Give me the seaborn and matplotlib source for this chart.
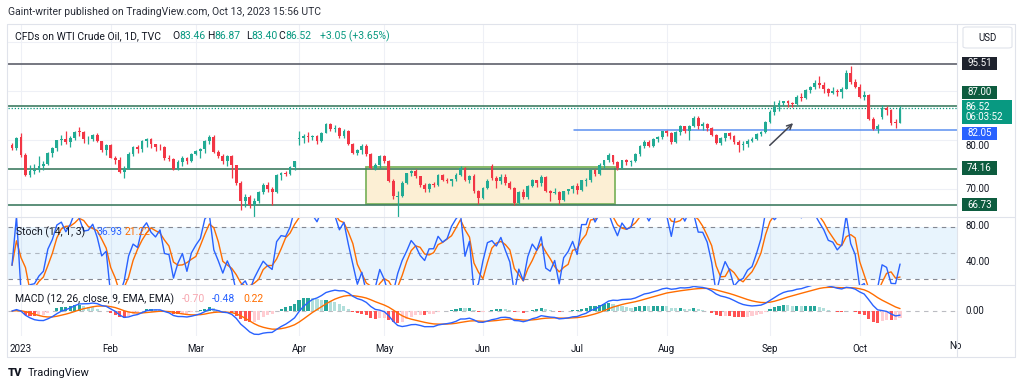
import numpy as np
import pandas as pd
import matplotlib
matplotlib.use("Agg")
import matplotlib.pyplot as plt
import seaborn as sns
from matplotlib.patches import Rectangle, FancyBboxPatch

# ---------------- data (daily candles, 29 Dec 2022 .. 13 Oct 2023) ----------------
opens = [78.9, 78.4,
         80.5, 76.9, 72.8, 73.7, 73.8, 74.6, 75.1, 77.4, 78.4, 79.9, 80.2, 79.5, 80.3, 81.7, 81.6, 80.1, 80.2, 81.0, 79.7, 77.9,
         78.9, 76.4, 75.9, 73.4, 74.1, 77.1, 78.5, 78.1, 79.7, 80.1, 79.1, 78.6, 78.5, 76.3, 76.2, 74.0, 75.4, 76.3, 75.7,
         77.1, 77.7, 78.2, 79.7, 80.5, 77.6, 76.7, 75.7, 76.7, 74.8, 71.3, 67.6, 68.4, 66.7, 67.6, 69.3, 70.9, 70.0, 69.3, 72.8, 73.2, 73.0, 74.4,
         80.1, 80.4, 80.7, 80.6, 80.7, 79.7, 81.5, 83.3, 82.2, 82.5, 80.8, 81.9, 79.2, 77.4, 77.9, 78.8, 77.1, 74.3, 74.8,
         76.8, 75.7, 71.7, 68.3, 68.6, 71.3, 73.2, 73.7, 72.6, 70.9, 70.0, 71.1, 70.9, 72.8, 71.9, 71.7, 72.0, 72.9, 74.3, 71.8, 72.7, 69.5,
         68.1, 70.1, 74.7, 72.2, 71.7, 72.5, 71.3, 70.2, 67.1, 69.4, 68.3, 70.6, 71.8, 71.2, 72.5, 69.5, 69.2, 69.4, 67.7, 69.6, 69.9,
         70.6, 69.8, 71.7, 71.8, 73.9, 73.0, 74.8, 75.8, 76.9, 75.4, 74.2, 75.8, 75.4, 75.6, 77.1, 78.7, 79.6, 78.8, 80.1, 80.6,
         81.8, 81.4, 79.5, 81.6, 82.8, 81.9, 82.9, 84.4, 82.8, 83.2, 82.5, 81.0, 79.4, 80.4, 81.3, 80.7, 79.6, 78.9, 79.1, 79.8, 80.1, 81.2, 81.6,
         83.6, 85.6, 86.7, 87.5, 87.9, 87.5, 87.3, 88.8, 88.5, 90.2, 90.8, 91.5, 91.2, 90.3, 89.6, 90.0, 89.7, 90.4, 93.7, 91.7,
         90.8, 88.8, 89.2, 84.2, 82.3, 84.7, 86.4, 86.0, 83.5, 83.46]
highs = [79.3, 80.5,
         81.5, 77.4, 74.9, 75.0, 76.7, 75.6, 77.5, 78.6, 80.0, 81.0, 81.9, 80.8, 81.9, 82.6, 81.8, 80.7, 81.2, 81.5, 79.8, 79.1,
         79.2, 76.7, 76.6, 74.6, 77.5, 78.7, 79.0, 80.0, 80.4, 80.4, 79.2, 79.2, 78.8, 77.0, 76.4, 76.0, 76.7, 76.5, 77.4,
         78.0, 78.4, 79.9, 80.9, 80.9, 77.9, 77.1, 77.0, 77.0, 74.8, 71.6, 68.9, 68.8, 68.2, 69.6, 71.2, 71.5, 70.3, 73.0, 73.5, 73.6, 74.7, 75.7,
         81.8, 81.2, 81.7, 81.0, 80.9, 81.7, 83.5, 83.4, 83.0, 82.6, 82.2, 82.0, 79.3, 78.1, 79.1, 79.1, 77.3, 75.2, 76.9,
         76.9, 75.8, 72.0, 69.5, 71.6, 73.3, 73.9, 74.0, 72.7, 71.3, 71.3, 71.4, 73.0, 73.0, 72.3, 72.1, 73.3, 74.6, 74.4, 72.9, 73.1, 69.8,
         70.4, 72.0, 75.1, 72.6, 73.0, 73.1, 71.6, 70.3, 69.6, 70.0, 70.9, 72.0, 71.9, 72.8, 72.7, 69.8, 70.2, 69.6, 69.6, 70.0, 70.9,
         71.3, 71.9, 72.3, 74.0, 74.0, 75.2, 76.0, 77.3, 77.0, 75.6, 76.0, 76.1, 76.0, 77.3, 78.9, 79.9, 79.9, 80.3, 80.8, 81.9,
         82.0, 81.6, 81.8, 83.0, 82.9, 83.1, 84.9, 84.9, 83.6, 83.5, 82.6, 81.2, 80.6, 81.4, 81.6, 81.0, 80.0, 79.7, 80.2, 80.5, 81.3, 81.8, 83.8,
         86.0, 87.9, 88.1, 88.0, 88.1, 87.7, 89.2, 89.6, 90.4, 91.0, 92.2, 93.0, 91.8, 90.6, 90.7, 90.4, 90.7, 94.2, 95.0, 92.3,
         91.3, 89.9, 89.3, 84.6, 83.3, 87.2, 86.8, 86.2, 84.3, 86.87]
lows = [77.9, 78.0,
        76.6, 72.7, 72.5, 73.1, 73.5, 73.8, 74.9, 76.6, 77.8, 78.9, 79.1, 78.5, 80.0, 80.8, 79.4, 79.1, 79.8, 79.5, 77.6, 76.9,
        76.3, 75.1, 73.2, 72.3, 74.0, 76.8, 77.3, 77.6, 78.6, 78.3, 77.8, 78.0, 75.8, 75.6, 73.8, 73.8, 74.7, 75.1, 75.5,
        76.9, 76.4, 77.3, 79.2, 77.4, 76.4, 75.1, 74.7, 72.3, 70.8, 65.7, 66.3, 66.2, 64.1, 67.1, 68.9, 69.3, 66.8, 69.2, 71.9, 72.6, 72.8, 73.8,
        79.0, 79.4, 79.6, 79.9, 79.2, 79.6, 81.3, 81.9, 81.6, 80.4, 80.4, 78.9, 77.1, 77.0, 77.2, 76.8, 74.0, 73.8, 74.3,
        75.3, 71.5, 67.9, 63.6, 68.4, 71.0, 72.6, 72.3, 70.3, 69.4, 69.4, 70.4, 70.7, 71.6, 71.2, 70.7, 71.7, 72.7, 71.6, 71.2, 69.2, 67.0,
        67.9, 70.0, 71.8, 70.1, 71.1, 70.8, 69.9, 66.8, 67.0, 67.9, 67.9, 70.4, 70.3, 70.6, 69.3, 67.6, 68.9, 67.0, 67.6, 68.9, 69.2,
        69.0, 69.6, 70.7, 71.5, 72.7, 72.8, 74.2, 75.5, 75.1, 73.9, 74.1, 74.8, 74.7, 75.4, 76.8, 78.4, 78.5, 78.5, 79.5, 80.1,
        80.8, 79.2, 79.4, 81.0, 81.5, 79.9, 82.6, 82.2, 82.0, 81.8, 80.8, 79.2, 78.9, 79.8, 80.2, 79.2, 77.6, 78.0, 78.5, 79.5, 79.9, 80.8, 81.4,
        83.4, 85.0, 85.9, 86.8, 86.6, 86.6, 86.9, 88.0, 88.3, 89.6, 90.3, 90.5, 89.5, 88.9, 89.3, 88.9, 88.5, 90.3, 91.4, 90.5,
        88.6, 88.2, 84.0, 82.0, 81.5, 84.3, 85.1, 83.1, 82.5, 83.40]
closes = [78.4, 80.3,
          76.9, 72.8, 73.7, 73.8, 74.6, 75.1, 77.4, 78.4, 79.9, 80.2, 79.5, 80.3, 81.6, 81.6, 80.1, 80.2, 81.0, 79.7, 77.9, 78.9,
          76.4, 75.9, 73.4, 74.1, 77.1, 78.5, 78.1, 79.7, 80.1, 79.1, 78.6, 78.5, 76.3, 76.2, 74.0, 75.4, 76.3, 75.7, 77.1,
          77.7, 78.2, 79.7, 80.5, 77.6, 76.7, 75.7, 76.7, 74.8, 71.3, 67.6, 68.4, 66.7, 67.6, 69.3, 70.9, 70.0, 69.3, 72.8, 73.2, 73.0, 74.4, 75.7,
          80.4, 80.7, 80.6, 80.7, 79.7, 81.5, 83.3, 82.2, 82.5, 80.8, 81.9, 79.2, 77.4, 77.9, 78.8, 77.1, 74.3, 74.8, 76.8,
          75.7, 71.7, 68.6, 68.6, 71.3, 73.2, 73.7, 72.6, 70.9, 70.0, 71.1, 70.9, 72.8, 71.9, 71.7, 72.0, 72.9, 74.3, 71.8, 72.7, 69.5, 68.1,
          70.1, 71.7, 72.2, 71.7, 72.5, 71.3, 70.2, 67.1, 69.4, 68.3, 70.6, 71.8, 71.2, 72.5, 69.5, 69.2, 69.4, 67.7, 69.6, 69.9, 70.6,
          69.8, 71.8, 71.8, 73.9, 73.0, 74.8, 75.8, 76.9, 75.4, 74.2, 75.8, 75.4, 75.6, 77.1, 78.7, 79.6, 78.8, 80.1, 80.6, 81.8,
          81.4, 79.5, 81.6, 82.8, 81.9, 82.9, 84.4, 82.8, 83.2, 82.5, 81.0, 79.4, 80.4, 81.3, 80.7, 79.6, 78.9, 79.1, 79.8, 80.1, 81.2, 81.6, 83.6,
          85.6, 86.7, 87.5, 87.9, 87.5, 87.3, 88.8, 88.5, 90.2, 90.8, 91.5, 91.2, 90.3, 89.6, 90.0, 89.7, 90.4, 93.7, 91.7, 90.8,
          88.8, 89.2, 84.2, 82.3, 82.8, 86.4, 86.0, 83.5, 83.47, 86.52]

month_labels = ["2023", "Feb", "Mar", "Apr", "May", "Jun", "Jul", "Aug", "Sep", "Oct"]
month_bar = [2, 22, 41, 64, 83, 105, 126, 146, 169, 189]

level_dark = 95.51
levels_green = [87.00, 74.16, 66.73]
level_blue = 82.05
last_price = 86.52
box_bars = [78.9, 134.4]
box_prices = [67.0, 74.4]
arrow_from = (168.5, 78.5)
arrow_to = (174.6, 83.8)

# ---------------- frame ----------------
df = pd.DataFrame({"o": opens, "h": highs, "l": lows, "c": closes})
df["i"] = np.arange(len(df))

hh = df["h"].rolling(14, min_periods=1).max()
ll = df["l"].rolling(14, min_periods=1).min()
df["k"] = 100 * (df["c"] - ll) / (hh - ll)
df["d"] = df["k"].rolling(3, min_periods=1).mean()
ema12 = df["c"].ewm(span=12, adjust=False).mean()
ema26 = df["c"].ewm(span=26, adjust=False).mean()
df["macd"] = ema12 - ema26
df["sig"] = df["macd"].ewm(span=9, adjust=False).mean()
df["hist"] = df["macd"] - df["sig"]

sns.set_theme(style="white")
plt.rcParams["font.family"] = ["Roboto", "DejaVu Sans"]

W, H = 1024, 388
fig = plt.figure(figsize=(W / 100, H / 100), dpi=100)
fig.patch.set_facecolor("white")


def rect(x0, y0, x1, y1):
    return [x0 / W, 1 - y1 / H, (x1 - x0) / W, (y1 - y0) / H]


def ftxt(x, y, s, **kw):
    kw.setdefault("va", "center")
    kw.setdefault("fontsize", 7)
    return fig.text(x / W, 1 - y / H, s, **kw)


def fbox(x0, y0, x1, y1, color, z=3):
    r = Rectangle((x0 / W, 1 - y1 / H), (x1 - x0) / W, (y1 - y0) / H,
                  transform=fig.transFigure, facecolor=color, edgecolor="none",
                  lw=0, zorder=z)
    fig.patches.append(r)


def fline(x0, y0, x1, y1, color="#e0e3eb", lw=0.8):
    fig.add_artist(plt.Line2D([x0 / W, x1 / W], [1 - y0 / H, 1 - y1 / H],
                              transform=fig.transFigure, color=color, lw=lw, zorder=5))


ax_p = fig.add_axes(rect(8, 24, 957, 217))
ax_s = fig.add_axes(rect(8, 217, 957, 285), sharex=ax_p)
ax_m = fig.add_axes(rect(8, 285, 957, 336), sharex=ax_p)

XMIN, XMAX = -0.892, 210.7
for ax in (ax_p, ax_s, ax_m):
    ax.set_facecolor("none")
    for sp in ax.spines.values():
        sp.set_visible(False)
    for mb in month_bar:
        ax.axvline(mb, color="#eef0f6", lw=0.8, zorder=0)
    ax.tick_params(left=False, right=False, labelleft=False, bottom=False, labelbottom=False)
ax_p.set_xlim(XMIN, XMAX)
ax_p.set_ylim(64.29, 103.6)
ax_s.set_ylim(13.0, 91.5)
ax_m.set_ylim(-2.66, 2.77)

# ---- main pane ----
for g in (70, 80, 90, 100):
    ax_p.axhline(g, color="#eef0f6", lw=0.8, zorder=0)
ax_p.add_patch(Rectangle((box_bars[0], box_prices[0]), box_bars[1] - box_bars[0],
                         box_prices[1] - box_prices[0], facecolor="#fcefd4",
                         edgecolor="#7fb560", lw=1.3, zorder=1))
ax_p.axhline(level_dark, color="#5d606b", lw=1.2, zorder=1)
for lv in levels_green:
    ax_p.axhline(lv, color="#3f7d62", lw=1.2, zorder=1)
ax_p.plot([125.3, XMAX], [level_blue, level_blue], color="#5b8ff0", lw=1.1, zorder=1)
ax_p.axhline(last_price, color="#089981", lw=0.9, ls=(0, (1, 1.5)), zorder=1)

up = df["c"] >= df["o"]
colors = np.where(up, "#22ab94", "#f23645")
body_lo = np.minimum(df["o"], df["c"])
body_h = np.maximum(np.abs(df["c"] - df["o"]), 0.12)
ax_p.vlines(df["i"], df["l"], df["h"], colors=colors, lw=0.9, zorder=2)
ax_p.bar(df["i"], body_h, bottom=body_lo, width=0.62, color=colors, lw=0, zorder=3)

ax_p.annotate("", xy=arrow_to, xytext=arrow_from,
              arrowprops=dict(arrowstyle="->", color="#434651", lw=1.1, mutation_scale=9), zorder=4)

# ---- stochastic pane ----
ax_s.axhspan(20, 80, color="#2196f3", alpha=0.1, lw=0, zorder=0)
for lv in (80, 50, 20):
    ax_s.axhline(lv, color="#787b86", lw=0.8, ls=(0, (4, 4)), alpha=0.9 if lv != 50 else 0.5, zorder=1)
sns.lineplot(x=df["i"], y=df["d"], ax=ax_s, color="#ff6d00", lw=1.0, zorder=2)
sns.lineplot(x=df["i"], y=df["k"], ax=ax_s, color="#2962ff", lw=1.0, zorder=3)
ax_s.set_xlabel("")
ax_s.set_ylabel("")

# ---- MACD pane ----
hist = df["hist"].to_numpy()
prev = np.r_[0.0, hist[:-1]]
hcol = np.where(hist >= 0, np.where(hist >= prev, "#26a69a", "#b2dfdb"),
                np.where(hist < prev, "#ff5252", "#ffcdd2"))
ax_m.axhline(0, color="#787b86", lw=0.8, ls=(0, (4, 4)), alpha=0.5, zorder=0)
ax_m.bar(df["i"], hist, width=0.7, color=hcol, lw=0, zorder=1)
sns.lineplot(x=df["i"], y=df["sig"], ax=ax_m, color="#ff6d00", lw=1.0, zorder=2)
sns.lineplot(x=df["i"], y=df["macd"], ax=ax_m, color="#2962ff", lw=1.0, zorder=3)
ax_m.set_xlabel("")
ax_m.set_ylabel("")
ax_m.set_xticks(month_bar)
ax_m.set_xticklabels(month_labels)
ax_m.tick_params(bottom=False, labelbottom=True, labelsize=7, labelcolor="#131722", pad=-0.5)
ax_m.set_xlim(XMIN, XMAX)

# ---------------- frame lines ----------------
fline(7, 24, 1015, 24)
fline(7, 357, 1015, 357)
fline(7, 24, 7, 357)
fline(1015, 24, 1015, 357)
fline(957, 24, 957, 357)
fline(7, 217, 1015, 217)
fline(7, 285, 1015, 285)

# ---------------- header & legends ----------------
DARK = "#131722"
GREEN = "#089981"
FS = 7.5
ftxt(8, 12, "Gaint-writer published on TradingView.com, Oct 13, 2023 15:56 UTC", color="#2a2e39", fontsize=FS)
ftxt(15, 36, "CFDs on WTI Crude Oil, 1D, TVC", color=DARK, fontsize=FS)


def pair(x, y, a, b, ca, cb):
    t = ftxt(x, y, a, color=ca, fontsize=FS)
    fig.canvas.draw()
    bb = t.get_window_extent()
    fig.text(bb.x1 / W, 1 - y / H, b, color=cb, fontsize=FS, va="center")


pair(172.7, 36, "O", "83.46", DARK, GREEN)
pair(207, 36, "H", "86.87", DARK, GREEN)
pair(245.7, 36, "L", "83.40", DARK, GREEN)
pair(278.7, 36, "C", "86.52", DARK, GREEN)
ftxt(320, 36, "+3.05 (+3.65%)", color=GREEN, fontsize=FS)

ftxt(16, 232, "Stoch (14, 1, 3)", color=DARK, fontsize=FS)
ftxt(96.7, 232, "36.93", color="#2962ff", fontsize=FS)
ftxt(125, 232, "21.22", color="#ff6d00", fontsize=FS)

ftxt(15, 299, "MACD (12, 26, close, 9, EMA, EMA)", color=DARK, fontsize=FS)
ftxt(181.7, 299, "-0.70", color="#f7a7b0", fontsize=FS)
ftxt(212, 299, "-0.48", color="#2962ff", fontsize=FS)
ftxt(243, 299, "0.22", color="#ff6d00", fontsize=FS)

# ---------------- right price scale ----------------
fig.patches.append(FancyBboxPatch((963 / W, 1 - 48 / H), 49 / W, 21 / H,
                                  boxstyle="round,pad=0,rounding_size=0.004",
                                  transform=fig.transFigure, facecolor="white",
                                  edgecolor="#e0e3eb", lw=0.8, zorder=3))
ftxt(987.5, 38, "USD", color=DARK, fontsize=7, ha="center", zorder=6)

ftxt(966, 189, "70.00", color=DARK, fontsize=7)
ftxt(966, 146, "80.00", color=DARK, fontsize=7)
ftxt(966, 226, "80.00", color=DARK, fontsize=7)
ftxt(966, 262, "40.00", color=DARK, fontsize=7)
ftxt(966, 311, "0.00", color=DARK, fontsize=7)

fbox(962, 57, 997, 70, "#1e222d", z=6)
ftxt(979.5, 63.5, "95.51", color="white", fontsize=7, ha="center", zorder=7)
fbox(962, 86, 997, 98.5, "#0d5c3f", z=6)
ftxt(979.5, 92.3, "87.00", color="white", fontsize=7, ha="center", zorder=7)
fbox(962, 100, 1012, 124, "#089981", z=6)
ftxt(966, 106.5, "86.52", color="white", fontsize=7, zorder=7)
ftxt(966, 117.5, "06:03:52", color="white", fontsize=7, zorder=7)
fbox(962, 127, 997, 140, "#2962ff", z=6)
ftxt(979.5, 133.5, "82.05", color="white", fontsize=7, ha="center", zorder=7)
fbox(962, 161.5, 997, 175, "#0d5c3f", z=6)
ftxt(979.5, 168.3, "74.16", color="white", fontsize=7, ha="center", zorder=7)
fbox(962, 198, 997, 211, "#0d5c3f", z=6)
ftxt(979.5, 204.5, "66.73", color="white", fontsize=7, ha="center", zorder=7)

ftxt(955, 346, "No", color=DARK, fontsize=7, ha="center")

# ---------------- footer logo ----------------
ftxt(8, 373, "TV", color=DARK, fontsize=8, fontweight="heavy")
ftxt(28, 373, "TradingView", color=DARK, fontsize=8)

fig.savefig("out.png", dpi=100, facecolor="white")
